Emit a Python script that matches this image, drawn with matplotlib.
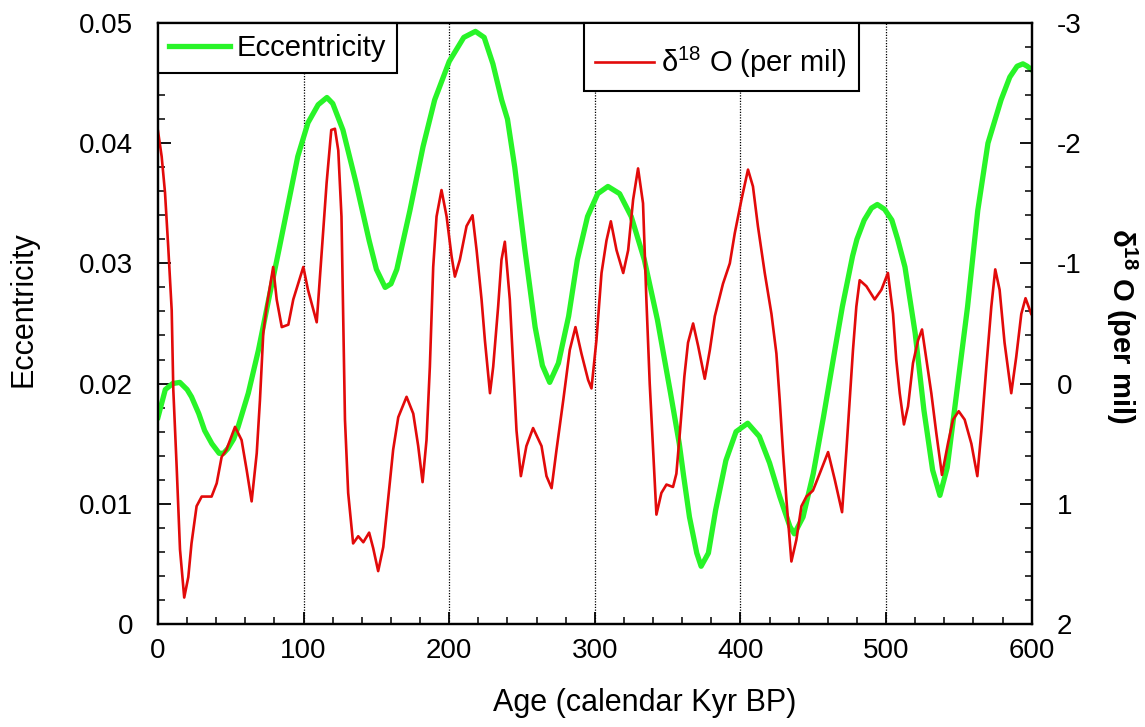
import numpy as np
import matplotlib
matplotlib.use('Agg')
import matplotlib.pyplot as plt
from matplotlib.ticker import MultipleLocator, FuncFormatter

plt.rcParams['font.family'] = ['Liberation Sans', 'DejaVu Sans']
plt.rcParams['mathtext.fontset'] = 'custom'
plt.rcParams['mathtext.rm'] = 'Liberation Sans'
plt.rcParams['mathtext.bf'] = 'Liberation Sans:bold'
plt.rcParams['axes.unicode_minus'] = False

# eccentricity (left axis)
ecc_age = [0, 5, 10, 15, 20, 23, 28, 32, 37, 42, 45, 48, 52, 55, 62, 69, 76, 83,
           90, 96, 103, 110, 116, 120, 127, 136, 145, 150, 156, 160, 164, 173, 182,
           190, 200, 210, 218, 224, 230, 236, 240, 245, 252, 259, 264, 269, 275,
           282, 288, 295, 302, 309, 317, 325, 334, 343, 352, 358, 361, 365, 370,
           373, 378, 383, 390, 397, 405, 413, 420, 427, 434, 437, 443, 450, 457,
           464, 470, 477, 480, 485, 490, 494, 499, 504, 508, 513, 520, 526, 532,
           537, 542, 549, 556, 563, 570, 579, 585, 590, 594, 597, 600]
ecc = [0.0172, 0.0195, 0.0200, 0.0201, 0.0195, 0.0189, 0.0175, 0.0161, 0.0150,
       0.0142, 0.0142, 0.0146, 0.0154, 0.0164, 0.0192, 0.0228, 0.0270, 0.0311,
       0.0353, 0.0389, 0.0417, 0.0432, 0.0438, 0.0433, 0.0411, 0.0367, 0.0319,
       0.0295, 0.0280, 0.0283, 0.0295, 0.0344, 0.0397, 0.0436, 0.0468, 0.0488,
       0.0493, 0.0488, 0.0466, 0.0436, 0.0420, 0.0380, 0.0311, 0.0247, 0.0215,
       0.0201, 0.0217, 0.0256, 0.0303, 0.0339, 0.0358, 0.0364, 0.0358, 0.0339,
       0.0303, 0.0253, 0.0192, 0.0150, 0.0123, 0.0089, 0.0059, 0.0048, 0.0059,
       0.0095, 0.0136, 0.0160, 0.0167, 0.0156, 0.0134, 0.0106, 0.0081, 0.0075,
       0.0089, 0.0125, 0.0172, 0.0222, 0.0264, 0.0306, 0.0320, 0.0336, 0.0346,
       0.0349, 0.0345, 0.0336, 0.0320, 0.0297, 0.0242, 0.0178, 0.0128, 0.0107,
       0.0130, 0.0197, 0.0264, 0.0344, 0.0400, 0.0436, 0.0455, 0.0464, 0.0466,
       0.0464, 0.0461]

# delta 18O (right axis, per mil)
d18o_age = [0, 2.5, 4.8, 7, 9.4, 10.5, 12.8, 15.1, 18, 20.8, 23, 26.5, 30, 36.8,
            40.3, 43.7, 47, 52.9, 57.4, 60.9, 64.3, 67.8, 70, 72.3, 74.6, 79.1,
            81.5, 85, 89.5, 92.9, 99.8, 103, 109, 112.4, 115.8, 119, 121.5, 123.8,
            126, 127.2, 128.4, 130.6, 134, 137.5, 141, 145, 147.8, 151.2, 154.7,
            158, 161.5, 165, 170.7, 175.3, 178.7, 181.7, 184.4, 186.7, 189, 191.3,
            194.7, 198.2, 201.6, 203.9, 207.3, 211.9, 216, 218.8, 222.2, 224.5,
            228, 230.2, 233.6, 235.9, 238.2, 241.6, 244, 246.2, 249.2, 253, 257.6,
            263.4, 266.8, 270.3, 273.7, 278.3, 282.8, 286.7, 290.8, 295.4, 297.7,
            301.1, 304.6, 308, 311, 314.9, 319.5, 322.9, 326.3, 329.7, 333.1,
            335.4, 337.7, 340, 342.3, 345.7, 349.2, 353.7, 356, 358.4, 361.5, 364,
            367.5, 371, 375.5, 379, 382.4, 388, 392.7, 396.1, 400.7, 405.2, 408.6,
            412, 416.7, 421.3, 424.7, 427, 429.3, 431.6, 435, 438.4, 441.9, 445.3,
            449.8, 454.4, 460.2, 464.8, 469.8, 472.8, 475, 477.3, 479.6, 481.9,
            486.5, 492.2, 496.8, 501.3, 504.8, 507, 509.4, 512.3, 515.1, 518.5,
            522, 524.7, 527.7, 531.1, 534.5, 538.4, 542.5, 546, 549.9, 554, 558.6,
            562.7, 565.5, 568.9, 572.3, 575, 578, 581.4, 586, 589.4, 592.9, 595.8,
            599.7]
d18o = [-2.10, -1.89, -1.59, -1.14, -0.61, 0.05, 0.69, 1.38, 1.78, 1.61, 1.33,
        1.02, 0.94, 0.94, 0.83, 0.61, 0.55, 0.36, 0.47, 0.72, 0.98, 0.58, 0.14,
        -0.42, -0.64, -0.97, -0.70, -0.47, -0.49, -0.70, -0.97, -0.78, -0.51,
        -1.09, -1.67, -2.11, -2.12, -1.94, -1.39, -0.53, 0.30, 0.91, 1.33, 1.27,
        1.32, 1.24, 1.37, 1.56, 1.36, 0.97, 0.55, 0.28, 0.11, 0.25, 0.52, 0.82,
        0.47, -0.14, -0.97, -1.39, -1.61, -1.39, -1.06, -0.89, -1.03, -1.31,
        -1.40, -1.11, -0.70, -0.36, 0.08, -0.14, -0.64, -1.03, -1.18, -0.70,
        -0.14, 0.39, 0.77, 0.52, 0.37, 0.52, 0.77, 0.87, 0.55, 0.14, -0.28,
        -0.47, -0.25, -0.03, 0.04, -0.36, -0.92, -1.19, -1.35, -1.11, -0.92,
        -1.11, -1.53, -1.79, -1.50, -0.70, 0.00, 0.55, 1.09, 0.91, 0.84, 0.86,
        0.75, 0.41, -0.06, -0.34, -0.50, -0.31, -0.04, -0.28, -0.56, -0.83,
        -1.00, -1.25, -1.53, -1.78, -1.64, -1.31, -0.92, -0.58, -0.25, 0.14,
        0.58, 0.97, 1.48, 1.30, 1.02, 0.94, 0.89, 0.75, 0.57, 0.80, 1.07, 0.55,
        0.14, -0.28, -0.64, -0.86, -0.81, -0.70, -0.78, -0.92, -0.58, -0.20,
        0.08, 0.34, 0.19, -0.17, -0.36, -0.45, -0.20, 0.08, 0.41, 0.76, 0.50,
        0.30, 0.23, 0.30, 0.50, 0.77, 0.39, -0.14, -0.64, -0.95, -0.78, -0.34,
        0.08, -0.22, -0.58, -0.71, -0.58]

grid_ages = [100, 200, 300, 400, 500]

fig = plt.figure(figsize=(11.45, 7.27), dpi=100)
ax = fig.add_axes([0.138, 0.1417, 0.763, 0.8267])
ax2 = ax.twinx()

for g in grid_ages:
    ax.axvline(g, color='black', ls=(0, (1, 1.2)), lw=0.9, zorder=1)

l1, = ax.plot(ecc_age, ecc, color='#28f428', lw=3.8, label='Eccentricity', zorder=2)
l2, = ax2.plot(d18o_age, d18o, color='#e20a0a', lw=1.9,
               label=r'δ$^{\mathrm{18}}$ O (per mil)')

ax.set_xlim(0, 600)
ax.set_ylim(0, 0.05)
ax2.set_ylim(2, -3)

ax.xaxis.set_major_locator(MultipleLocator(100))
ax.xaxis.set_minor_locator(MultipleLocator(20))
ax.yaxis.set_major_locator(MultipleLocator(0.01))
ax.yaxis.set_minor_locator(MultipleLocator(0.002))
ax.yaxis.set_major_formatter(FuncFormatter(lambda v, p: '0' if abs(v) < 1e-9 else '%g' % v))
ax2.yaxis.set_major_locator(MultipleLocator(1))
ax2.yaxis.set_minor_locator(MultipleLocator(0.2))
ax2.yaxis.set_major_formatter(FuncFormatter(lambda v, p: '%d' % round(v)))

ax.tick_params(axis='x', which='both', direction='in', top=False, labelsize=20, pad=10)
ax.tick_params(axis='y', which='both', direction='in', right=False, labelsize=20, pad=18)
ax2.tick_params(axis='y', which='both', direction='in', left=False, labelsize=20, pad=18)
for a in (ax, ax2):
    a.tick_params(which='major', length=9, width=1.3)
    a.tick_params(which='minor', length=5, width=1.1)
    for s in a.spines.values():
        s.set_linewidth(1.6)

ax.set_xlabel('Age (calendar Kyr BP)', fontsize=22)
ax.xaxis.set_label_coords(0.557, -0.107)
ax.set_ylabel('Eccentricity', fontsize=22)
ax.yaxis.set_label_coords(-0.137, 0.524)
ax2.set_ylabel(r'δ$^{\mathbf{18}}$ O (per mil)', fontsize=21, fontweight='bold',
               rotation=-90, va='bottom')
ax2.yaxis.set_label_coords(1.083, 0.496)

leg1 = ax.legend(handles=[l1], loc='upper left', bbox_to_anchor=(0, 1),
                 borderaxespad=0, fancybox=False, edgecolor='black', framealpha=1,
                 fontsize=21, handlelength=2.1, handletextpad=0.2, borderpad=0.38)
leg1.get_frame().set_linewidth(1.5)
leg2 = ax2.legend(handles=[l2], loc='upper left', bbox_to_anchor=(0.4874, 1),
                  borderaxespad=0, fancybox=False, edgecolor='black', framealpha=1,
                  fontsize=21, handlelength=2.0, handletextpad=0.25, borderpad=0.4,
                  title=' ', title_fontsize=5, labelspacing=0.1)
leg2.get_frame().set_linewidth(1.5)

fig.savefig('out.png', dpi=100)
